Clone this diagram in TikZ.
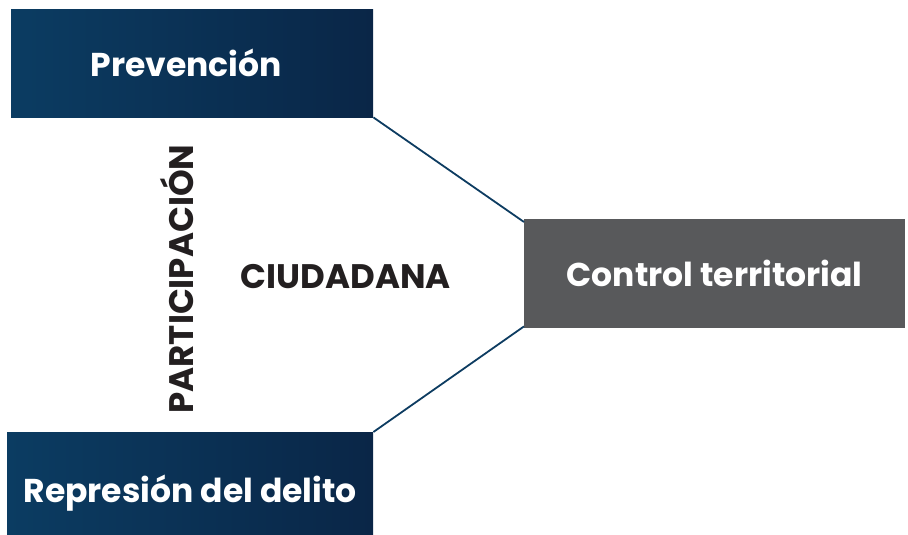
\documentclass[tikz,border=0pt]{standalone}
\usepackage{fontspec}
\setmainfont{Poppins}
\begin{document}
\begin{tikzpicture}[x=1pt,y=-1pt,
  bluebox/.style={draw=none,left color=bleft,right color=bright,inner sep=0pt,anchor=north west},
  greybox/.style={draw=none,fill=boxgrey,inner sep=0pt,anchor=north west},
  boxtext/.style={text=white,font=\bfseries\fontsize{33}{38}\selectfont},
  link/.style={draw=linkblue,line width=1.8pt},
  dark/.style={text=textdark,font=\bfseries\fontsize{34}{40}\selectfont}]
\definecolor{bleft}{HTML}{0B3C62}
\definecolor{bright}{HTML}{0A2647}
\definecolor{boxgrey}{HTML}{58595B}
\definecolor{linkblue}{HTML}{0D3C61}
\definecolor{textdark}{HTML}{231F20}
\useasboundingbox (0,0) rectangle (908,535);
\node[bluebox,minimum width=362pt,minimum height=108pt] (prev) at (11,9) {};
\node[bluebox,minimum width=366pt,minimum height=103pt] (rep) at (7,432) {};
\node[greybox,minimum width=381pt,minimum height=109pt] (ctrl) at (524,219) {};
\node[boxtext] (prevt) at ([xshift=-6pt]prev.center) {Prevención};
\node[boxtext] (rept) at ([yshift=-9pt]rep.center) {Represión del delito};
\node[boxtext] (ctrlt) at (ctrl.center) {Control territorial};
\draw[link] (prev.south east) -- ([yshift=-3pt]ctrl.north west);
\draw[link] (rep.north east) -- ([yshift=2pt]ctrl.south west);
\node[dark,rotate=90] (part) at (177,279) {PARTICIPACIÓN};
\node[dark] (ciud) at (346,277) {CIUDADANA};
\end{tikzpicture}
\end{document}
